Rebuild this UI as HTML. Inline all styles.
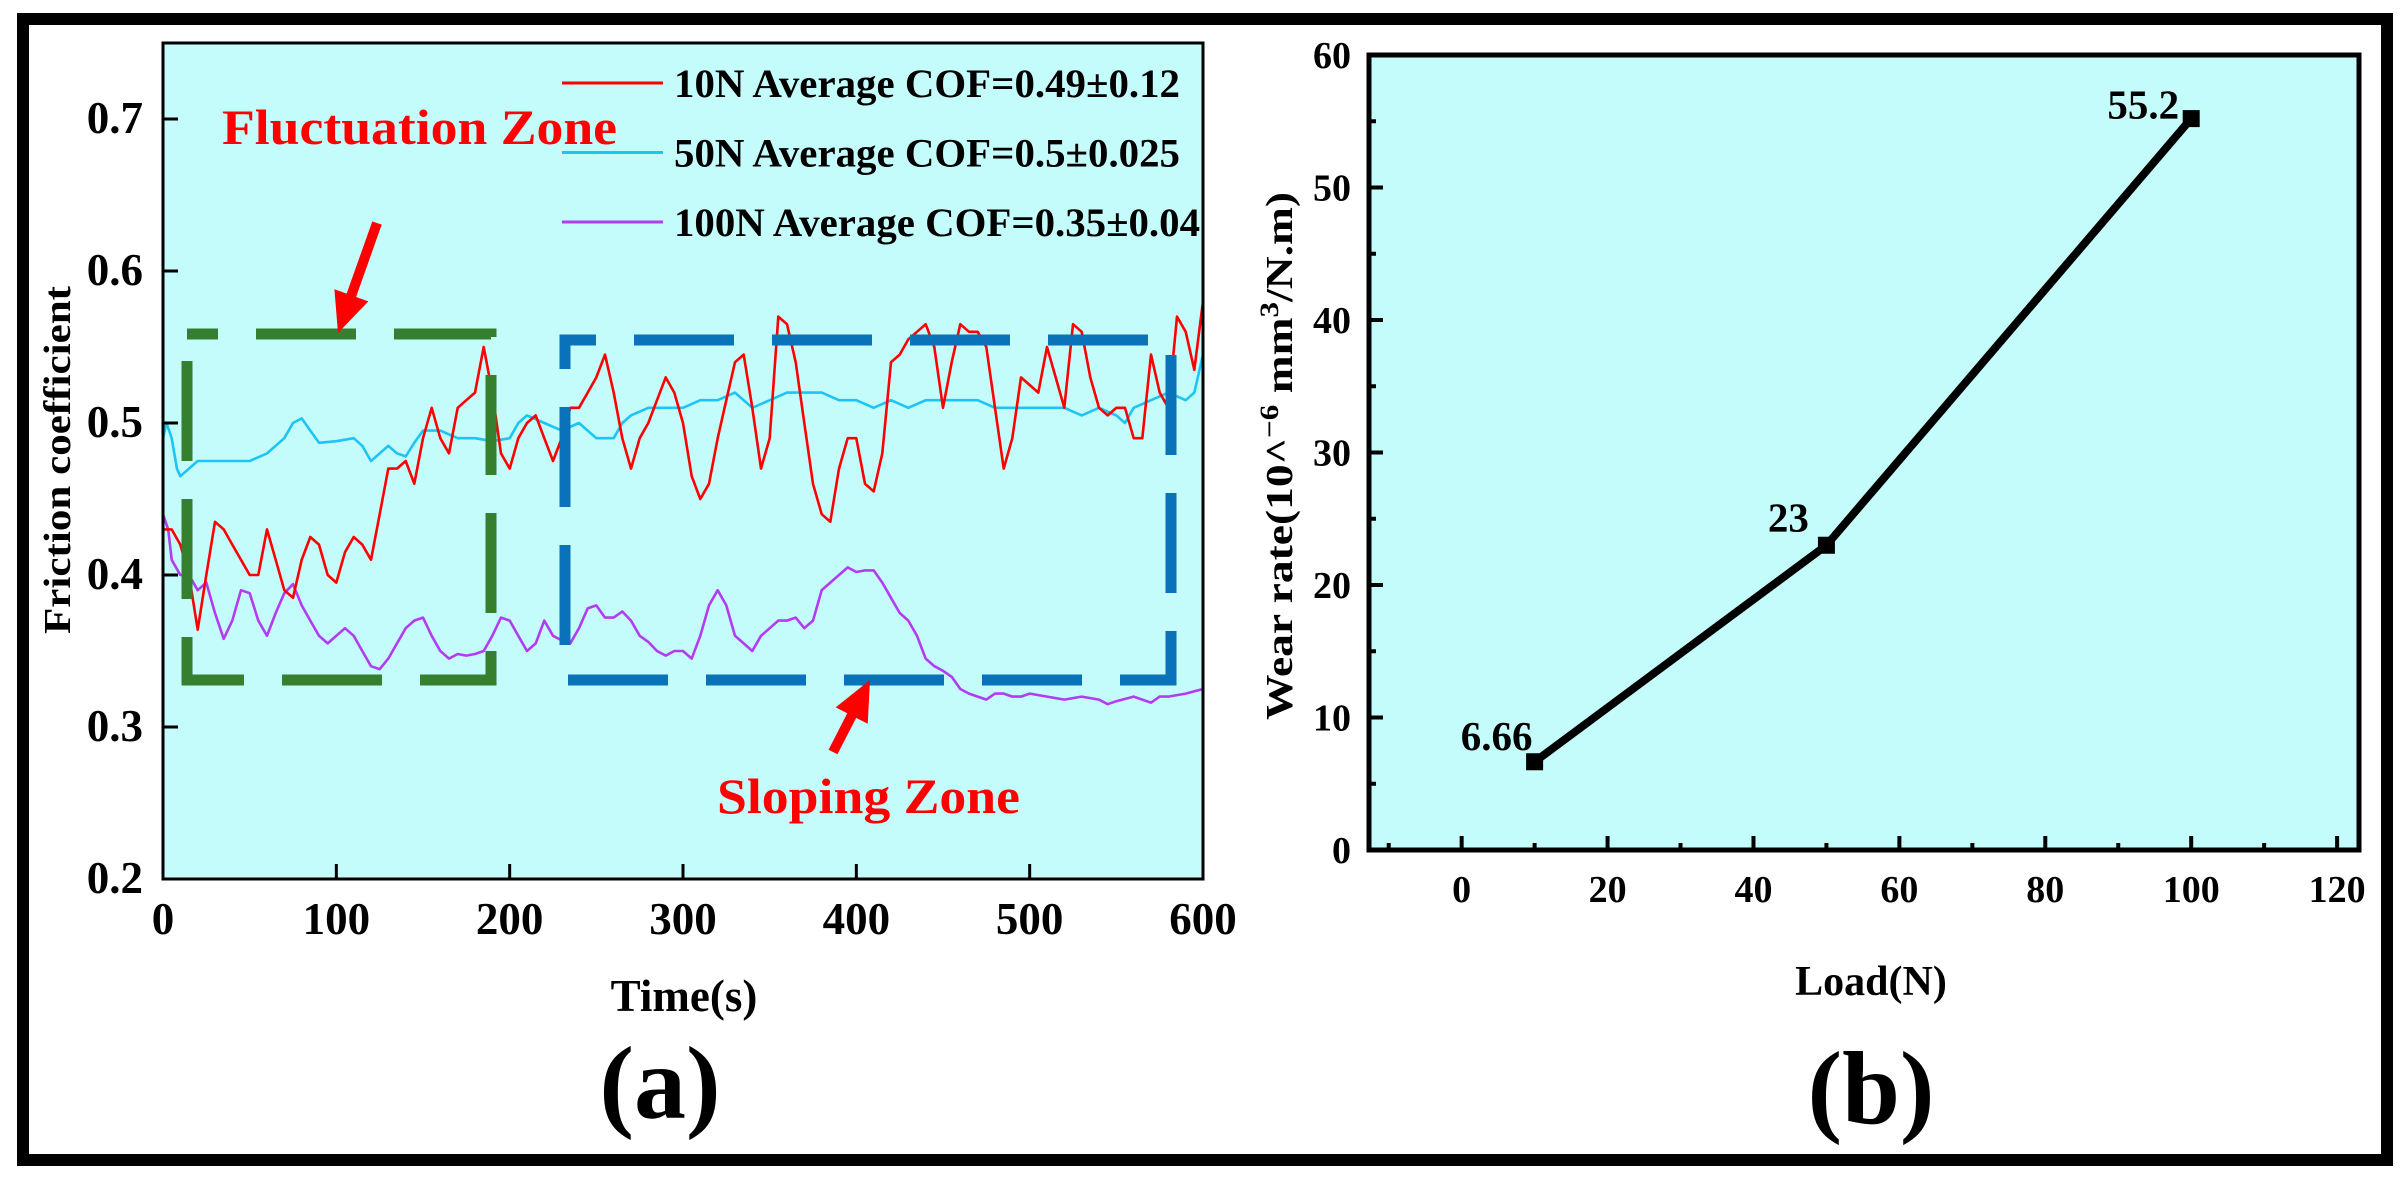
<!DOCTYPE html>
<html><head><meta charset="utf-8"><style>
html,body{margin:0;padding:0;background:#fff;}
svg{display:block;}
text{font-family:"Liberation Serif",serif;font-weight:bold;}
</style></head><body>
<svg id="fig" width="2408" height="1184" viewBox="0 0 2408 1184" xmlns="http://www.w3.org/2000/svg">
<rect x="23" y="19" width="2364" height="1141" fill="#fff" stroke="#000" stroke-width="12"/>
<g id="chartA"></g>
<g id="chartB"></g>
</svg>
<script>
// ---------- Chart (a) data ----------
const redTimes = [0,5,10,15,20,25,30,35,40,45,50,55,60,65,70,75,80,85,90,95,100,105,110,115,120,125,130,135,140,145,150,155,160,165,170,175,180,185,190,195,200,205,210,215,220,225,230,235,240,245,250,255,260,265,270,275,280,285,290,295,300,305,310,315,320,325,330,335,340,345,350,355,360,365,370,375,380,385,390,395,400,405,410,415,420,425,430,435,440,445,450,455,460,465,470,475,480,485,490,495,500,505,510,515,520,525,530,535,540,545,550,555,560,565,570,575,580,585,590,595,600];
const redValues = [0.43,0.43,0.42,0.40,0.364,0.40,0.435,0.43,0.42,0.41,0.40,0.40,0.43,0.41,0.39,0.385,0.41,0.425,0.42,0.40,0.395,0.415,0.425,0.42,0.41,0.44,0.47,0.47,0.475,0.46,0.49,0.51,0.49,0.48,0.51,0.515,0.52,0.55,0.52,0.48,0.47,0.49,0.50,0.505,0.49,0.475,0.49,0.51,0.51,0.52,0.53,0.545,0.52,0.49,0.47,0.49,0.50,0.515,0.53,0.52,0.50,0.465,0.45,0.46,0.49,0.515,0.54,0.545,0.51,0.47,0.49,0.57,0.565,0.54,0.50,0.46,0.44,0.435,0.47,0.49,0.49,0.46,0.455,0.48,0.54,0.545,0.555,0.56,0.565,0.55,0.51,0.54,0.565,0.56,0.56,0.55,0.51,0.47,0.49,0.53,0.525,0.52,0.55,0.53,0.51,0.565,0.56,0.53,0.51,0.505,0.51,0.51,0.49,0.49,0.545,0.52,0.51,0.57,0.56,0.535,0.58];
const blueTimes = [0,2,5,8,10,15,20,30,40,50,60,70,75,80,85,90,100,110,115,120,125,130,135,140,145,150,160,170,180,190,200,205,210,220,230,240,250,260,265,270,280,290,300,310,320,330,340,350,360,370,380,390,400,410,420,430,440,450,460,470,480,490,500,510,520,530,540,550,555,560,570,580,590,595,600];
const blueValues = [0.49,0.50,0.49,0.47,0.465,0.47,0.475,0.475,0.475,0.475,0.48,0.49,0.50,0.503,0.495,0.487,0.488,0.49,0.485,0.475,0.48,0.485,0.48,0.478,0.487,0.495,0.495,0.49,0.49,0.488,0.49,0.50,0.505,0.50,0.495,0.50,0.49,0.49,0.50,0.505,0.51,0.51,0.51,0.515,0.515,0.52,0.51,0.515,0.52,0.52,0.52,0.515,0.515,0.51,0.515,0.51,0.515,0.515,0.515,0.515,0.51,0.51,0.51,0.51,0.51,0.505,0.51,0.505,0.50,0.51,0.515,0.52,0.515,0.52,0.545];
const purpleTimes = [0,3,5,10,15,20,25,30,35,40,45,50,55,60,65,70,75,80,85,90,95,100,105,110,115,120,125,130,135,140,145,150,155,160,165,170,175,180,185,190,195,200,205,210,215,220,225,230,235,240,245,250,255,260,265,270,275,280,285,290,295,300,305,310,315,320,325,330,335,340,345,350,355,360,365,370,375,380,385,390,395,400,405,410,415,420,425,430,435,440,445,450,455,460,465,470,475,480,485,490,495,500,510,520,530,540,545,550,560,570,575,580,590,600];
const purpleValues = [0.44,0.43,0.41,0.40,0.40,0.39,0.395,0.375,0.358,0.37,0.39,0.388,0.37,0.36,0.375,0.388,0.394,0.38,0.37,0.36,0.355,0.36,0.365,0.36,0.35,0.34,0.338,0.345,0.355,0.365,0.37,0.372,0.36,0.35,0.345,0.348,0.347,0.348,0.35,0.36,0.372,0.37,0.36,0.35,0.355,0.37,0.36,0.357,0.355,0.365,0.378,0.38,0.372,0.372,0.376,0.37,0.36,0.356,0.35,0.347,0.35,0.35,0.345,0.36,0.38,0.39,0.38,0.36,0.355,0.35,0.36,0.365,0.37,0.37,0.372,0.365,0.37,0.39,0.395,0.40,0.405,0.402,0.403,0.403,0.395,0.385,0.375,0.37,0.36,0.345,0.34,0.337,0.333,0.325,0.322,0.32,0.318,0.322,0.322,0.32,0.32,0.322,0.32,0.318,0.32,0.318,0.315,0.317,0.32,0.316,0.32,0.32,0.322,0.325];
const xTicksA = [0,100,200,300,400,500,600];
const yTicksA = [0.2,0.3,0.4,0.5,0.6,0.7];
const legendLabels = ["10N Average COF=0.49±0.12","50N Average COF=0.5±0.025","100N Average COF=0.35±0.04"];
// ---------- Chart (b) data ----------
const loads = [10,50,100];
const wearRates = [6.66,23,55.2];
const wearLabels = ["6.66","23","55.2"];
const xTicksB = [0,20,40,60,80,100,120];
const yTicksB = [0,10,20,30,40,50,60];

const NS="http://www.w3.org/2000/svg";
function mk(tag, parent, attrs){const e=document.createElementNS(NS,tag);for(const k in attrs)e.setAttribute(k,attrs[k]);parent.appendChild(e);return e;}

// ===== Chart A =====
const A=document.getElementById('chartA');
const aL=163,aR=1203,aT=43,aB=879;
const ax=t=>aL+(t-0)/(600-0)*(aR-aL);
const ay=v=>aB-(v-0.2)/(0.75-0.2)*(aB-aT);
let r=mk('rect',A,{x:aL,y:aT,width:aR-aL,height:aB-aT,fill:'#c4fcfc'});



function series(times,vals,color,name){
  let d='';times.forEach((t,i)=>{d+=(i?'L':'M')+ax(t).toFixed(1)+','+ay(vals[i]).toFixed(1);});
  const p=mk('path',A,{d:d,fill:'none',stroke:color,'stroke-width':2.6,'stroke-linejoin':'round'});
  
  
}
series(purpleTimes,purpleValues,'#b23cf0','series-100n');
series(blueTimes,blueValues,'#1ec4f4','series-50n');
series(redTimes,redValues,'#ff0000','series-10n');

// dashed zone boxes
function box(x1,y1,x2,y2,color,off,name){
  const p=mk('path',A,{d:`M${x1},${y1}H${x2}V${y2}H${x1}Z`,fill:'none',stroke:color,'stroke-width':11,'stroke-dasharray':'100 38','stroke-dashoffset':off});
  
  
}
box(187,334,491,680,'#34802f',69,'fluctuation-zone-box');
box(565,340,1171,680,'#0a72b8',69,'sloping-zone-box');

// arrows
function arrow(x1,y1,x2,y2,name){
  const g=mk('g',A,{});
  
  
  const dx=x2-x1,dy=y2-y1,L=Math.hypot(dx,dy),ux=dx/L,uy=dy/L,nx=-uy,ny=ux;
  const hl=40,hw=18,sw=5;
  const bx=x2-ux*hl,by=y2-uy*hl;
  mk('polygon',g,{points:[[x1+nx*sw,y1+ny*sw],[bx+nx*sw,by+ny*sw],[bx+nx*hw,by+ny*hw],[x2,y2],[bx-nx*hw,by-ny*hw],[bx-nx*sw,by-ny*sw],[x1-nx*sw,y1-ny*sw]].map(p=>p.join(',')).join(' '),fill:'#ff0000'});
}
arrow(377,223,338,333,'fluctuation-arrow');
arrow(833,752,870,680,'sloping-arrow');

let t=mk('text',A,{x:222,y:144,'font-size':50,fill:'#ff0000',textLength:395,lengthAdjust:'spacingAndGlyphs'});t.textContent='Fluctuation Zone';


t=mk('text',A,{x:717,y:813,'font-size':50,fill:'#ff0000',textLength:303,lengthAdjust:'spacingAndGlyphs'});t.textContent='Sloping Zone';



// legend
const legColors=['#ff0000','#1ec4f4','#b23cf0'];
const legW=[506,506,526];
legendLabels.forEach((lab,i)=>{
  const y=83+i*69.5;
  const g=mk('g',A,{});
  
  
  mk('line',g,{x1:562,y1:y,x2:663,y2:y,stroke:legColors[i],'stroke-width':3});
  const tx=mk('text',g,{x:674,y:y+14,'font-size':40,fill:'#000',textLength:legW[i],lengthAdjust:'spacingAndGlyphs'});tx.textContent=lab;
});

// frame and ticks
r=mk('rect',A,{x:aL,y:aT,width:aR-aL,height:aB-aT,fill:'none',stroke:'#000','stroke-width':3});


xTicksA.forEach(v=>{
  mk('line',A,{x1:ax(v),y1:aB,x2:ax(v),y2:aB-15,stroke:'#000','stroke-width':3});
  const tt=mk('text',A,{x:ax(v),y:934,'font-size':45,'text-anchor':'middle'});tt.textContent=v;
  
  
});
yTicksA.forEach(v=>{
  mk('line',A,{x1:aL,y1:ay(v),x2:aL+15,y2:ay(v),stroke:'#000','stroke-width':3});
  const tt=mk('text',A,{x:143,y:ay(v)+14,'font-size':45,'text-anchor':'end'});tt.textContent=v.toFixed(1);
  
  
});
t=mk('text',A,{x:0,y:0,'font-size':38,'text-anchor':'middle',transform:'translate(70,460) rotate(-90)',textLength:348,lengthAdjust:'spacingAndGlyphs'});t.textContent='Friction coefficient';


t=mk('text',A,{x:684,y:1011,'font-size':45,'text-anchor':'middle'});t.textContent='Time(s)';


t=mk('text',A,{x:660,y:1118,'font-size':104,'text-anchor':'middle'});t.textContent='(a)';



// ===== Chart B =====
const B=document.getElementById('chartB');
const bL=1369,bR=2359,bT=55,bB=850;
const xMinB=-12.7,xMaxB=123;
const bx=v=>bL+(v-xMinB)/(xMaxB-xMinB)*(bR-bL);
const by=v=>bB-(v-0)/(60-0)*(bB-bT);
r=mk('rect',B,{x:bL,y:bT,width:bR-bL,height:bB-bT,fill:'#c4fcfc',stroke:'#000','stroke-width':5});


for(let v=-10;v<=120;v+=10){
  const major=xTicksB.includes(v);
  mk('line',B,{x1:bx(v),y1:bB,x2:bx(v),y2:bB-(major?14:7),stroke:'#000','stroke-width':4});
}
xTicksB.forEach(v=>{
  const tt=mk('text',B,{x:bx(v),y:902,'font-size':38,'text-anchor':'middle'});tt.textContent=v;
  
  
});
for(let v=5;v<60;v+=5){
  const major=yTicksB.includes(v);
  mk('line',B,{x1:bL,y1:by(v),x2:bL+(major?14:7),y2:by(v),stroke:'#000','stroke-width':4});
}
yTicksB.forEach(v=>{
  const tt=mk('text',B,{x:1351,y:by(v)+13,'font-size':38,'text-anchor':'end'});tt.textContent=v;
  
  
});
let d='';loads.forEach((l,i)=>{d+=(i?'L':'M')+bx(l).toFixed(1)+','+by(wearRates[i]).toFixed(1);});
let p=mk('path',B,{d:d,fill:'none',stroke:'#000','stroke-width':8,'stroke-linejoin':'round'});


const labOff=[[-38,-12],[-38,-14],[-48,0]];
loads.forEach((l,i)=>{
  const m=mk('rect',B,{x:bx(l)-8.5,y:by(wearRates[i])-8.5,width:17,height:17,fill:'#000'});
  
  
  const tt=mk('text',B,{x:bx(l)+labOff[i][0],y:by(wearRates[i])+labOff[i][1],'font-size':41,'text-anchor':'middle'});tt.textContent=wearLabels[i];
  
  
});
t=mk('text',B,{x:0,y:0,'font-size':38,'text-anchor':'middle',transform:'translate(1292,456) rotate(-90)',textLength:528,lengthAdjust:'spacingAndGlyphs'});
t.innerHTML='Wear rate(10^<tspan dy="-14" font-size="26">−6</tspan><tspan dy="14"> mm</tspan><tspan dy="-14" font-size="26">3</tspan><tspan dy="14">/N.m)</tspan>';


t=mk('text',B,{x:1871,y:995,'font-size':42,'text-anchor':'middle'});t.textContent='Load(N)';


t=mk('text',B,{x:1871,y:1123,'font-size':104,'text-anchor':'middle'});t.textContent='(b)';


</script>
</body></html>
